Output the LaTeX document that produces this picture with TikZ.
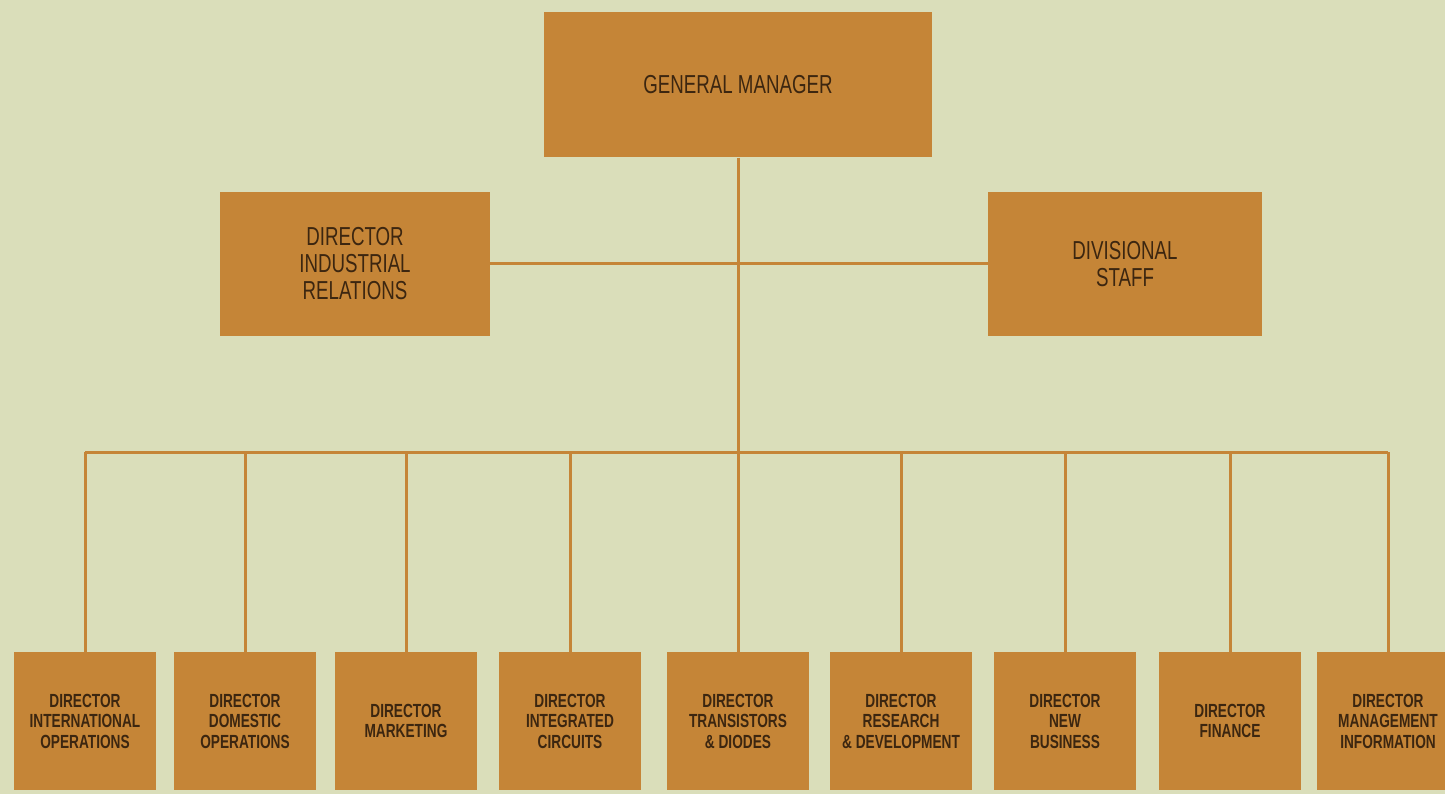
\documentclass[tikz,border=0pt]{standalone}
\usepackage{fontspec}
\setmainfont{Liberation Sans}[FakeStretch=0.72]
\definecolor{paper}{RGB}{218,222,186}
\definecolor{boxorange}{RGB}{197,133,55}
\definecolor{inkbrown}{RGB}{60,38,16}

\begin{document}
\begin{tikzpicture}[
    x=1pt, y=-1pt,
    headbox/.style={rectangle, fill=boxorange, text=inkbrown, align=center, inner sep=0pt, font=\fontsize{26}{27}\selectfont},
    dirbox/.style={rectangle, fill=boxorange, text=inkbrown, align=center, inner sep=0pt, minimum width=142pt, minimum height=138pt, font=\bfseries\fontsize{19}{20.5}\selectfont},
    link/.style={draw=boxorange, line width=3pt} % Connector lines
]
    \useasboundingbox (0,0) rectangle (1445,794);
    \clip (0,0) rectangle (1445,794);
    \fill[paper] (0,0) rectangle (1445,794);

    % Top level
    \node[headbox, minimum width=388pt, minimum height=145pt] (gm) at (738, 85) {GENERAL MANAGER};

    % Staff level
    \node[headbox, minimum width=270pt, minimum height=143pt] (indrel) at (355, 264) {DIRECTOR\\INDUSTRIAL\\RELATIONS};
    \node[headbox, minimum width=274pt, minimum height=143pt] (divstaff) at (1125, 264) {DIVISIONAL\\STAFF};

    % Bus joining the directors
    \coordinate (bus) at (738, 452);

    % Directors
    \node[dirbox] (intl) at (85, 721) {DIRECTOR\\INTERNATIONAL\\OPERATIONS};
    \node[dirbox] (dom) at (245, 721) {DIRECTOR\\DOMESTIC\\OPERATIONS};
    \node[dirbox] (mkt) at (406, 721) {DIRECTOR\\MARKETING};
    \node[dirbox] (ic) at (570, 721) {DIRECTOR\\INTEGRATED\\CIRCUITS};
    \node[dirbox] (trans) at (738, 721) {DIRECTOR\\TRANSISTORS\\\& DIODES};
    \node[dirbox] (rnd) at (901, 721) {DIRECTOR\\RESEARCH\\\& DEVELOPMENT};
    \node[dirbox] (newbiz) at (1065, 721) {DIRECTOR\\NEW\\BUSINESS};
    \node[dirbox] (fin) at (1230, 721) {DIRECTOR\\FINANCE};
    \node[dirbox] (mis) at (1388, 721) {DIRECTOR\\MANAGEMENT\\INFORMATION};

    % Staff line and trunk
    \draw[link] (indrel) -- (divstaff);
    \draw[link] (gm) -- (trans);

    % Bus and drops
    \draw[link] (intl.north |- bus) -- (mis.north |- bus);
    \draw[link] (intl) -- (intl.north |- bus);
    \draw[link] (dom) -- (dom.north |- bus);
    \draw[link] (mkt) -- (mkt.north |- bus);
    \draw[link] (ic) -- (ic.north |- bus);
    \draw[link] (rnd) -- (rnd.north |- bus);
    \draw[link] (newbiz) -- (newbiz.north |- bus);
    \draw[link] (fin) -- (fin.north |- bus);
    \draw[link] (mis) -- (mis.north |- bus);

\end{tikzpicture}
\end{document}
